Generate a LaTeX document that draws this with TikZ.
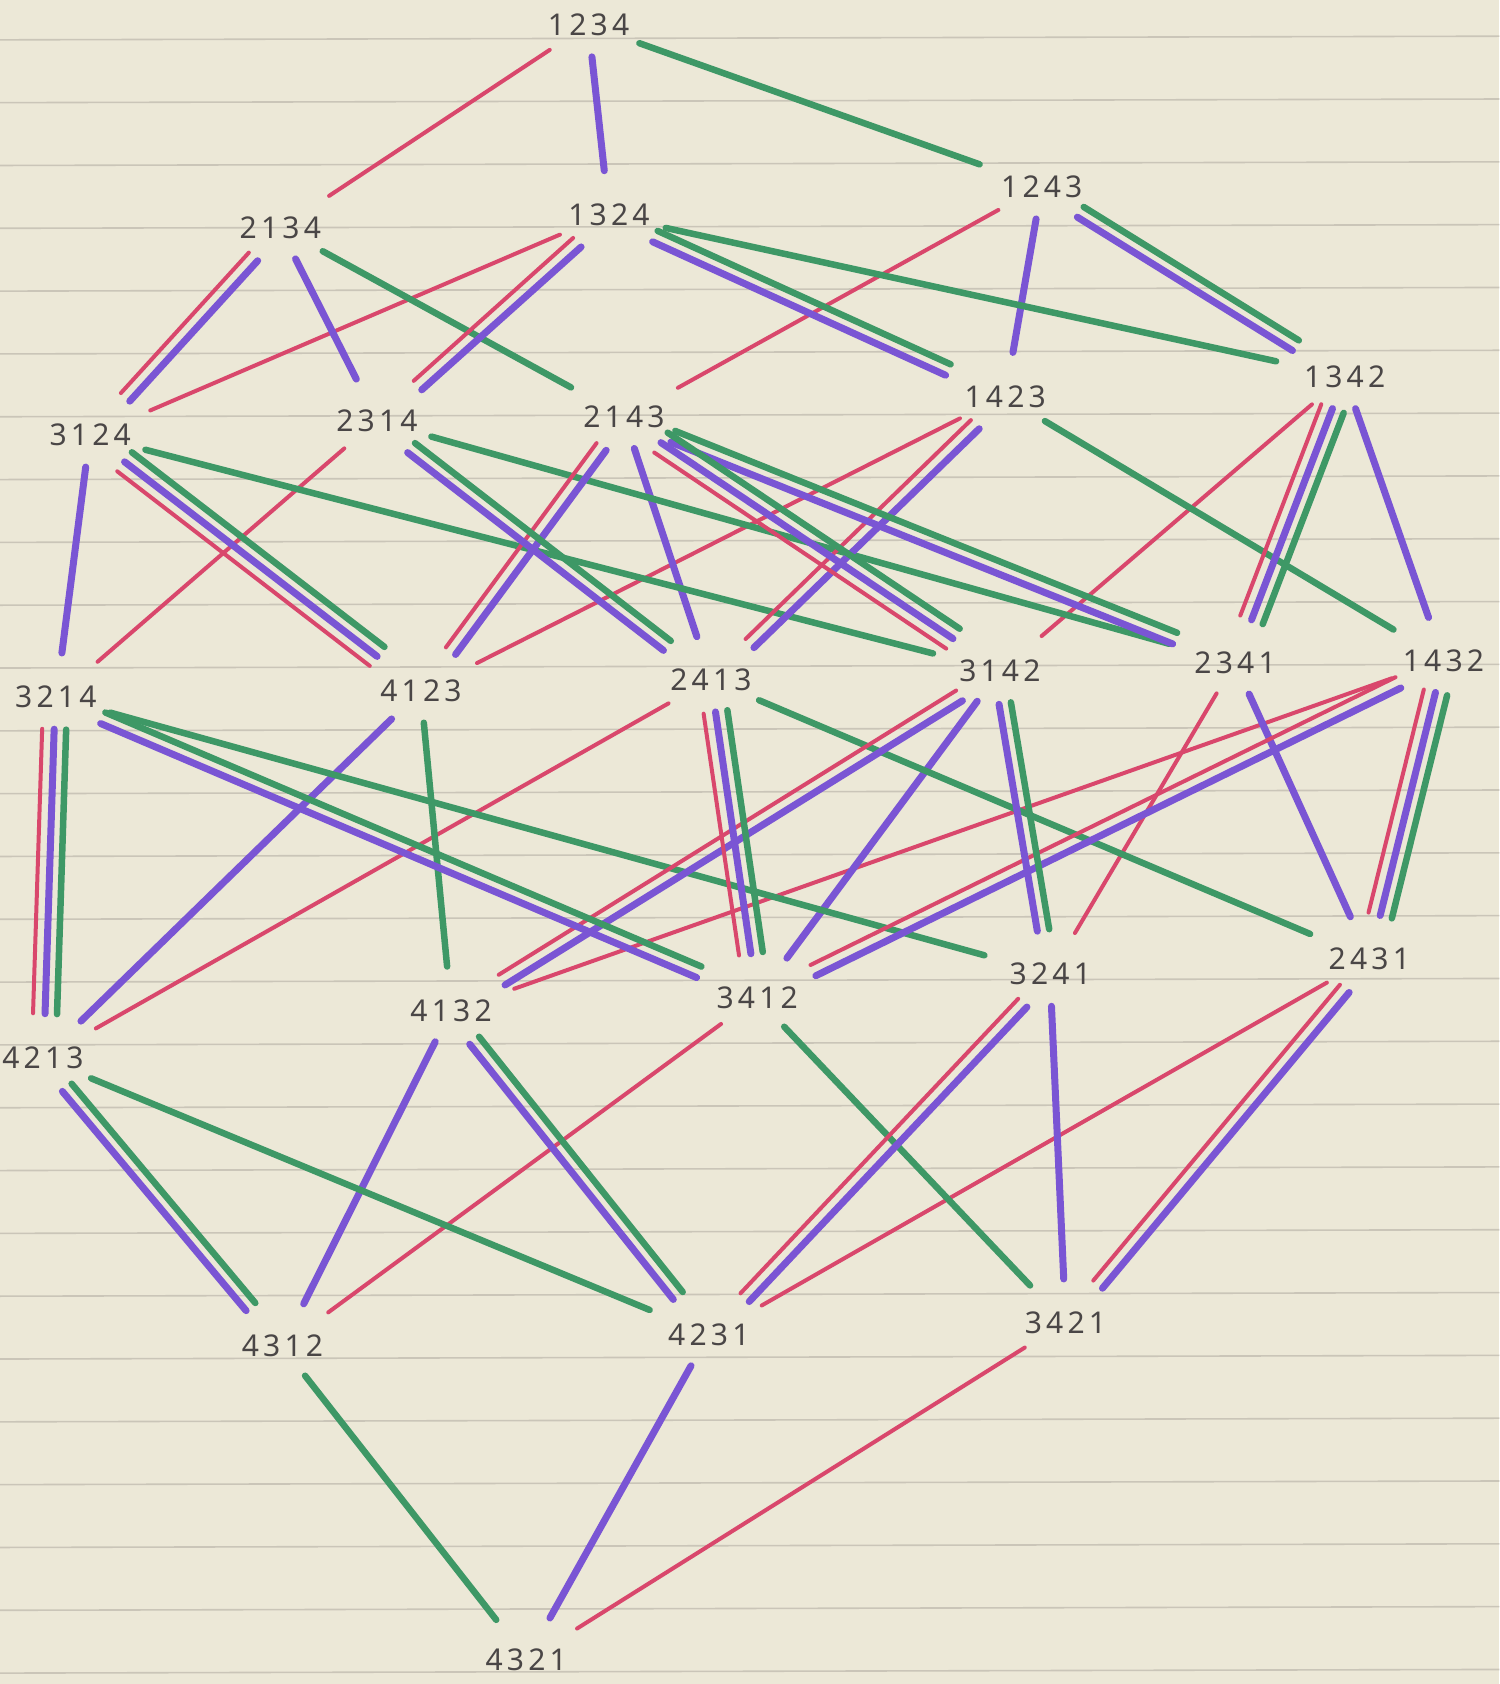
\documentclass[tikz,border=0pt]{standalone}
\usepackage{fontspec}
\setmainfont{Noto Sans}[LetterSpace=14]
\usetikzlibrary{shapes.geometric,calc}
\definecolor{paper}{HTML}{ECE8D7}
\definecolor{ruleline}{HTML}{CAC5B8}
\definecolor{pred}{HTML}{D9476C}
\definecolor{ppurple}{HTML}{7A55D4}
\definecolor{pgreen}{HTML}{3E9866}
\definecolor{ink}{HTML}{4A4646}
\tikzset{
  lbl/.style={ellipse, minimum width=124pt, minimum height=64pt, inner sep=0pt,
    text=ink, font=\fontsize{30}{30}\selectfont},
  edgebase/.style={line cap=round, shorten >=12pt},
  rl/.style={draw=pred, line width=4pt, edgebase},
  pl/.style={draw=ppurple, line width=7pt, edgebase},
  gl/.style={draw=pgreen, line width=6.5pt, edgebase},
  ruling/.style={draw=ruleline, line width=1.6pt}
}
% #1 style, #2 perpendicular offset, #3 upper node, #4 lower node
\newcommand\bruhatedge[4]{%
  \draw[#1] let \p1=($(n#4)-(n#3)$), \n1={atan2(\y1,\x1)},
      \n2={mod(\n1+360,360)}, \n3={mod(\n1+540,360)} in
    ($(n#3.\n2)+(\n1+90:#2)$) -- ($(n#4.\n3)+(\n1+90:#2)$);%
}
\begin{document}
\begin{tikzpicture}[x=1.0738pt, y=-1.0738pt]
\fill[paper] (0,0) rectangle (1396,1568);
\useasboundingbox (0,0) rectangle (1396,1568);
\foreach \k in {0,...,26}
  \draw[ruling] (0,{35.4+58.49*\k+1.7}) -- (1396,{35.4+58.49*\k-1.7});
% nodes
\node[lbl] (n1234) at (548,23) {1234};
\node[lbl] (n2134) at (261,212) {2134};
\node[lbl] (n1324) at (567,200) {1324};
\node[lbl] (n1243) at (970,174) {1243};
\node[lbl] (n3124) at (84,405) {3124};
\node[lbl] (n2314) at (351,392) {2314};
\node[lbl] (n2143) at (581,388) {2143};
\node[lbl] (n1423) at (936,369) {1423};
\node[lbl] (n1342) at (1252,351) {1342};
\node[lbl] (n3214) at (52,649) {3214};
\node[lbl] (n4123) at (392,643) {4123};
\node[lbl] (n2413) at (662,633) {2413};
\node[lbl] (n3142) at (931,625) {3142};
\node[lbl] (n2341) at (1150,617) {2341};
\node[lbl] (n1432) at (1344,615) {1432};
\node[lbl] (n4132) at (420,941) {4132};
\node[lbl] (n3412) at (705,929) {3412};
\node[lbl] (n3241) at (978,907) {3241};
\node[lbl] (n2431) at (1275,893) {2431};
\node[lbl] (n4213) at (40,985) {4213};
\node[lbl] (n4312) at (263,1253) {4312};
\node[lbl] (n4231) at (660,1243) {4231};
\node[lbl] (n3421) at (992,1232) {3421};
\node[lbl] (n4321) at (490,1545) {4321};
% single red
\foreach \a/\b in {1234/2134, 1324/3124, 1243/2143, 2314/3214, 1423/4123, 1342/3142,
  2413/4213, 2341/3241, 1432/4132, 3412/4312, 2431/4231, 3421/4321}
  {\bruhatedge{rl}{0pt}{\a}{\b}}
% single purple
\foreach \a/\b in {1234/1324, 2134/2314, 1243/1423, 3124/3214, 2143/2413, 1342/1432,
  4123/4213, 3142/3412, 2341/2431, 4132/4312, 3241/3421, 4231/4321}
  {\bruhatedge{pl}{0pt}{\a}{\b}}
% single green
\foreach \a/\b in {1234/1243, 2134/2143, 1324/1342, 3124/3142, 2314/2341, 1423/1432,
  3214/3241, 4123/4132, 2413/2431, 4213/4231, 3412/3421, 4312/4321}
  {\bruhatedge{gl}{0pt}{\a}{\b}}
% red + purple
\foreach \a/\b in {2134/3124, 1324/2314, 2143/4123, 1423/2413, 3142/4132, 1432/3412,
  3241/4231, 2431/3421}
  {\bruhatedge{rl}{-6pt}{\a}{\b}\bruhatedge{pl}{6pt}{\a}{\b}}
% purple + green
\foreach \a/\b in {1324/1423, 1243/1342, 2314/2413, 2143/2341, 3214/3412, 3142/3241,
  4213/4312, 4132/4231}
  {\bruhatedge{pl}{-6pt}{\a}{\b}\bruhatedge{gl}{6pt}{\a}{\b}}
% red + purple + green
\foreach \a/\b in {3124/4123, 2143/3142, 1342/2341, 3214/4213, 2413/3412, 1432/2431}
  {\bruhatedge{rl}{-12pt}{\a}{\b}\bruhatedge{pl}{0pt}{\a}{\b}\bruhatedge{gl}{12pt}{\a}{\b}}
\end{tikzpicture}
\end{document}
